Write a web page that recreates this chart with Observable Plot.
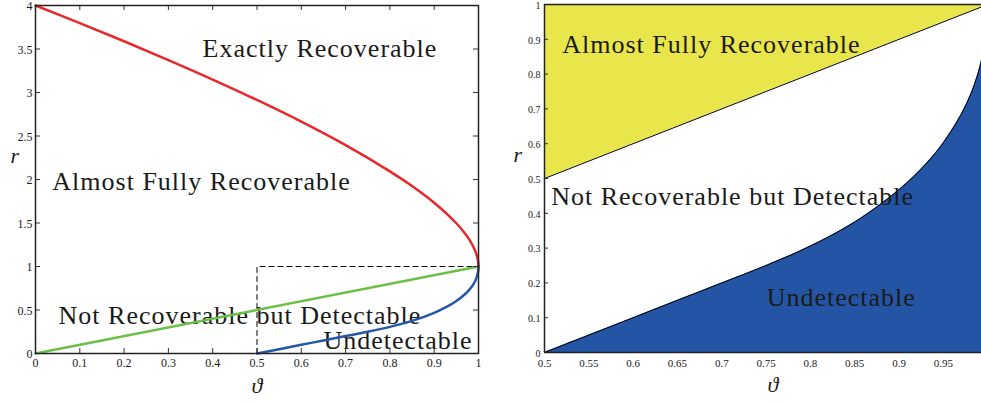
<!DOCTYPE html>
<html><head><meta charset="utf-8">
<script src="https://cdn.jsdelivr.net/npm/d3@7"></script>
<script src="https://cdn.jsdelivr.net/npm/@observablehq/plot@0.6"></script>
<style>
body{margin:0;background:#fff;}
#wrap{display:flex;width:981px;height:403px;overflow:hidden;background:#fff;}
#wrap svg{display:block;flex:none;}
#wrap svg text{font-family:'Liberation Serif','DejaVu Serif',serif;}
</style></head><body><div id="wrap"></div>
<script>
// ---- Data ----
// Left panel: exact-recovery boundary (red)
const redTheta = [0, 0.1, 0.2, 0.3, 0.4, 0.5, 0.6, 0.7, 0.8, 0.85, 0.9, 0.95, 0.97, 0.98, 0.99, 0.995, 0.999, 1];
const redR     = [4, 3.797, 3.589, 3.373, 3.149, 2.914, 2.665, 2.395, 2.094, 1.925, 1.732, 1.497, 1.376, 1.303, 1.21, 1.146, 1.064, 1];
// almost-full-recovery boundary (green)
const greenTheta = [0, 1];
const greenR     = [0, 1];
// detection boundary (blue)
const blueTheta = [0.5, 0.55, 0.6, 0.65, 0.7, 0.75, 0.8, 0.85, 0.9, 0.93, 0.95, 0.97, 0.98, 0.985, 0.99, 0.993, 0.995, 0.999, 1];
const blueR     = [0, 0.05, 0.1, 0.15, 0.2, 0.25, 0.306, 0.375, 0.468, 0.541, 0.603, 0.684, 0.737, 0.770, 0.81, 0.84, 0.864, 0.938, 1];
// dashed zoom box
const boxTheta = [0.5, 0.5, 1];
const boxR     = [0, 1, 1];
// tick values
const leftXTicks  = [0, 0.1, 0.2, 0.3, 0.4, 0.5, 0.6, 0.7, 0.8, 0.9, 1];
const leftYTicks  = [0, 0.5, 1, 1.5, 2, 2.5, 3, 3.5, 4];
const rightXTicks = [0.5, 0.55, 0.6, 0.65, 0.7, 0.75, 0.8, 0.85, 0.9, 0.95];
const rightYTicks = [0, 0.1, 0.2, 0.3, 0.4, 0.5, 0.6, 0.7, 0.8, 0.9, 1];
// region labels
const leftLabels  = ["Exactly Recoverable", "Almost Fully Recoverable", "Not Recoverable but Detectable", "Undetectable"];
const leftLabelTheta = [0.377, 0.038, 0.052, 0.65];
const leftLabelR     = [3.5, 1.98, 0.44, 0.15];
const rightLabels = ["Almost Fully Recoverable", "Not Recoverable but Detectable", "Undetectable"];
const rightLabelTheta = [0.52, 0.5076, 0.7507];
const rightLabelR     = [0.885, 0.448, 0.158];
// right panel region bounds
const yellowTheta = [0.5, 1];
const yellowLow   = [0.5, 1];
const yellowHigh  = [1, 1];

const zip = (xs, ys) => xs.map((x, i) => ({x, y: ys[i]}));
const red = zip(redTheta, redR), green = zip(greenTheta, greenR), blue = zip(blueTheta, blueR), box = zip(boxTheta, boxR);
const yellow = yellowTheta.map((x, i) => ({x, y1: yellowLow[i], y2: yellowHigh[i]}));
const lLab = leftLabels.map((t, i) => ({t, x: leftLabelTheta[i], y: leftLabelR[i]}));
const rLab = rightLabels.map((t, i) => ({t, x: rightLabelTheta[i], y: rightLabelR[i]}));

const FONT = "'Liberation Serif', 'DejaVu Serif', serif";
const INK = "#1a1a1a";
const labelFS = 26;
const fmt = d => String(d);

// ---- Left panel ----
const LW = 500, LH = 403, lm = {t: 5, r: 22, b: 50, l: 35};
const lpw = LW - lm.l - lm.r, lph = LH - lm.t - lm.b;
const left = Plot.plot({
  width: LW, height: LH,
  marginTop: lm.t, marginRight: lm.r, marginBottom: lm.b, marginLeft: lm.l,
  style: {fontFamily: FONT, fontSize: "11px", background: "white", color: INK, overflow: "visible"},
  x: {domain: [0, 1]},
  y: {domain: [0, 4]},
  marks: [
    Plot.axisX({ticks: leftXTicks, tickFormat: fmt, tickSize: 0, tickPadding: 5, label: null, fontSize: 12, fontFamily: FONT}),
    Plot.axisY({ticks: leftYTicks, tickFormat: fmt, tickSize: 0, tickPadding: 3, dy: 1, label: null, fontSize: 12, fontFamily: FONT}),
    Plot.text(lLab, {x: "x", y: "y", text: "t", textAnchor: "start", fontSize: labelFS, fill: INK, fontFamily: FONT}),
    Plot.line(box, {x: "x", y: "y", stroke: "black", strokeWidth: 1, strokeDasharray: "5,4"}),
    Plot.line(green, {x: "x", y: "y", stroke: "#6ac046", strokeWidth: 2.5}),
    Plot.line(blue, {x: "x", y: "y", stroke: "#2457a8", strokeWidth: 2.5, curve: "catmull-rom"}),
    Plot.line(red, {x: "x", y: "y", stroke: "#e8282b", strokeWidth: 2.5, curve: "catmull-rom"}),
    Plot.tickY(leftYTicks, {y: d => d, insetRight: lpw - 5, stroke: "#333"}),
    Plot.tickY(leftYTicks, {y: d => d, insetLeft: lpw - 5, stroke: "#333"}),
    Plot.tickX(leftXTicks, {x: d => d, insetTop: lph - 5, stroke: "#333"}),
    Plot.tickX(leftXTicks, {x: d => d, insetBottom: lph - 5, stroke: "#333"}),
    Plot.frame({stroke: "#222", strokeWidth: 1.5}),
    Plot.text(["r"], {text: d => d, frameAnchor: "left", dx: -25, dy: -24, fontSize: 22, fontStyle: "italic", fill: INK, fontFamily: FONT}),
    Plot.text(["\u03D1"], {text: d => d, frameAnchor: "bottom", dx: 0, dy: 39, fontSize: 22, fontStyle: "italic", fill: INK, fontFamily: FONT})
  ]
});

// ---- Right panel ----
const RW = 481, RH = 403, rm = {t: 4, r: 0, b: 51, l: 44};
const rpw = RW - rm.l - rm.r, rph = RH - rm.t - rm.b;
const right = Plot.plot({
  width: RW, height: RH,
  marginTop: rm.t, marginRight: rm.r, marginBottom: rm.b, marginLeft: rm.l,
  style: {fontFamily: FONT, fontSize: "10px", background: "white", color: INK, overflow: "visible"},
  x: {domain: [0.5, 0.993]},
  y: {domain: [0, 1]},
  marks: [
    Plot.areaY(yellow, {x: "x", y1: "y1", y2: "y2", fill: "#e9e64b", clip: true}),
    Plot.areaY(blue, {x: "x", y: "y", fill: "#2455a4", curve: "catmull-rom", clip: true}),
    Plot.line(yellow, {x: "x", y: "y1", stroke: "black", strokeWidth: 1, clip: true}),
    Plot.line(blue, {x: "x", y: "y", stroke: "black", strokeWidth: 1, curve: "catmull-rom", clip: true}),
    Plot.axisX({ticks: rightXTicks, tickFormat: fmt, tickSize: 0, tickPadding: 7, label: null, fontSize: 11, fontFamily: FONT}),
    Plot.axisY({ticks: rightYTicks, tickFormat: fmt, tickSize: 0, tickPadding: 4, dy: 1, label: null, fontSize: 10, fontFamily: FONT}),
    Plot.tickY(rightYTicks, {y: d => d, insetRight: rpw - 4, stroke: "#333"}),
    Plot.ruleX([0.5], {stroke: "#222", strokeWidth: 1.5}),
    Plot.ruleY([0, 1], {stroke: "#222", strokeWidth: 1.5}),
    Plot.text(rLab, {x: "x", y: "y", text: "t", textAnchor: "start", fontSize: labelFS, fill: INK, fontFamily: FONT}),
    Plot.text(["r"], {text: d => d, frameAnchor: "left", dx: -31, dy: -24, fontSize: 22, fontStyle: "italic", fill: INK, fontFamily: FONT}),
    Plot.text(["\u03D1"], {text: d => d, frameAnchor: "bottom", dx: 10, dy: 39, fontSize: 22, fontStyle: "italic", fill: INK, fontFamily: FONT})
  ]
});

document.getElementById("wrap").append(left, right);
// widen the region labels slightly to match the reference's wider serif face
const regionNames = new Set([...leftLabels, ...rightLabels]);
d3.selectAll("#wrap svg text").filter(function() { return regionNames.has(this.textContent); })
  .style("letter-spacing", "1px");
</script>
</body></html>
